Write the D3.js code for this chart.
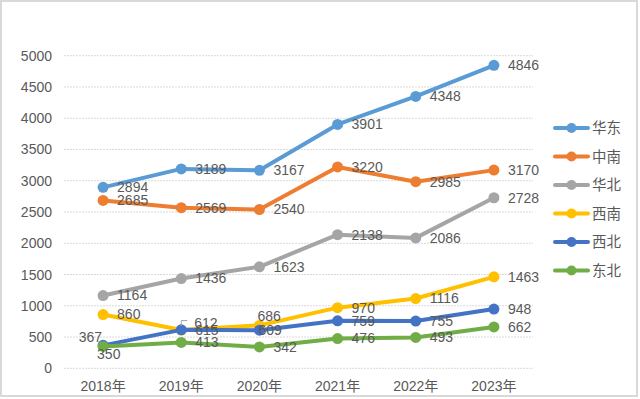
<!DOCTYPE html>
<html>
<head>
<meta charset="utf-8">
<script src="https://cdn.jsdelivr.net/npm/d3@7"></script>
<style>
  body { margin: 0; background: #fff; }
  svg text { font-family: "Liberation Sans", Arial, "Noto Sans CJK SC", sans-serif; fill: #595959; }
</style>
</head>
<body>
<svg id="chart" width="640" height="399"></svg>
<script>
// data
const years = ["2018年", "2019年", "2020年", "2021年", "2022年", "2023年"];
const regions = ["华东", "中南", "华北", "西南", "西北", "东北"];
const colors = ["#5B9BD5", "#ED7D31", "#A5A5A5", "#FFC000", "#4472C4", "#70AD47"];
const huadong = [2894, 3189, 3167, 3901, 4348, 4846];
const zhongnan = [2685, 2569, 2540, 3220, 2985, 3170];
const huabei = [1164, 1436, 1623, 2138, 2086, 2728];
const xinan = [860, 612, 686, 970, 1116, 1463];
const xibei = [367, 615, 609, 759, 755, 948];
const dongbei = [350, 413, 342, 476, 493, 662];
const yTicks = [0, 500, 1000, 1500, 2000, 2500, 3000, 3500, 4000, 4500, 5000];

const seriesValues = [huadong, zhongnan, huabei, xinan, xibei, dongbei];

// label placements that differ from the default "right"
const labelTweaks = {
  "西南-1": { dx: 13, dy: -7, leader: true },
  "西南-2": { dx: -2, dy: -9 },
  "西北-0": { dx: -1, dy: -8, anchor: "end" },
  "西北-2": { dx: -1, dy: 0 },
  "东北-0": { dx: -6, dy: 8 }
};

const svg = d3.select("#chart");
const margin = { left: 64, right: 107, top: 55.7, bottom: 30.7 };
const W = 640, H = 399;

// frame
svg.append("rect")
  .attr("x", 1).attr("y", 1).attr("width", 636).attr("height", 395)
  .attr("fill", "none").attr("stroke", "#d9d9d9").attr("stroke-width", 2);

const x = d3.scaleBand().domain(years).range([margin.left, W - margin.right]);
const y = d3.scaleLinear().domain([0, 5000]).range([H - margin.bottom, margin.top]);
const cx = d => x(d) + x.bandwidth() / 2;

// grid
svg.append("g")
  .selectAll("line")
  .data(yTicks)
  .join("line")
  .attr("x1", margin.left).attr("x2", W - margin.right)
  .attr("y1", d => y(d)).attr("y2", d => y(d))
  .attr("stroke", "#d9d9d9").attr("stroke-width", 1)
  .attr("stroke-dasharray", "2,1");

// y axis labels
const yAxis = d3.axisLeft(y).tickValues(yTicks).tickFormat(d3.format("d")).tickSize(0).tickPadding(12);
svg.append("g")
  .attr("transform", `translate(${margin.left},0)`)
  .call(yAxis)
  .call(g => g.select(".domain").remove())
  .selectAll("text")
  .attr("font-size", 14)
  .attr("font-family", null)
  .attr("fill", null);

// x axis labels
const xAxis = d3.axisBottom(x).tickSize(0).tickPadding(13);
svg.append("g")
  .attr("transform", `translate(0,${y(0)})`)
  .call(xAxis)
  .call(g => g.select(".domain").remove())
  .selectAll("text")
  .attr("font-size", 14)
  .attr("font-family", null)
  .attr("fill", null);

// lines
const line = d3.line().x((d, i) => cx(years[i])).y(d => y(d));
const series = regions.map((r, k) => ({ name: r, color: colors[k], values: seriesValues[k] }));

series.forEach(s => {
  const g = svg.append("g");
  g.append("path")
    .datum(s.values)
    .attr("d", line)
    .attr("fill", "none")
    .attr("stroke", s.color)
    .attr("stroke-width", 4)
    .attr("stroke-linejoin", "round")
    .attr("stroke-linecap", "round");
  g.selectAll("circle")
    .data(s.values)
    .join("circle")
    .attr("cx", (d, i) => cx(years[i]))
    .attr("cy", d => y(d))
    .attr("r", 5.5)
    .attr("fill", s.color);
});

// data labels
const labels = svg.append("g");
series.forEach(s => {
  s.values.forEach((v, i) => {
    const t = labelTweaks[s.name + "-" + i] || { dx: 14, dy: 0 };
    const px = cx(years[i]), py = y(v);
    labels.append("text")
      .attr("x", px + t.dx)
      .attr("y", py + t.dy)
      .attr("dy", "0.35em")
      .attr("text-anchor", t.anchor || "start")
      .attr("font-size", 14)
      .text(v);
    if (t.leader) {
      labels.append("path")
        .attr("d", `M${px},${py - 4}V${py - 9.5}H${px + 6}`)
        .attr("fill", "none")
        .attr("stroke", "#a6a6a6")
        .attr("stroke-width", 1);
    }
  });
});

// legend
const legend = svg.append("g").attr("transform", "translate(555,128)");
series.forEach((s, k) => {
  const row = legend.append("g").attr("transform", `translate(0,${k * 28.5})`);
  row.append("line")
    .attr("x1", 0).attr("x2", 33)
    .attr("stroke", s.color).attr("stroke-width", 4).attr("stroke-linecap", "round");
  row.append("circle").attr("cx", 16.5).attr("r", 5).attr("fill", s.color);
  row.append("text")
    .attr("x", 37).attr("dy", "0.35em")
    .attr("font-size", 14.5)
    .text(s.name);
});
</script>
</body>
</html>
